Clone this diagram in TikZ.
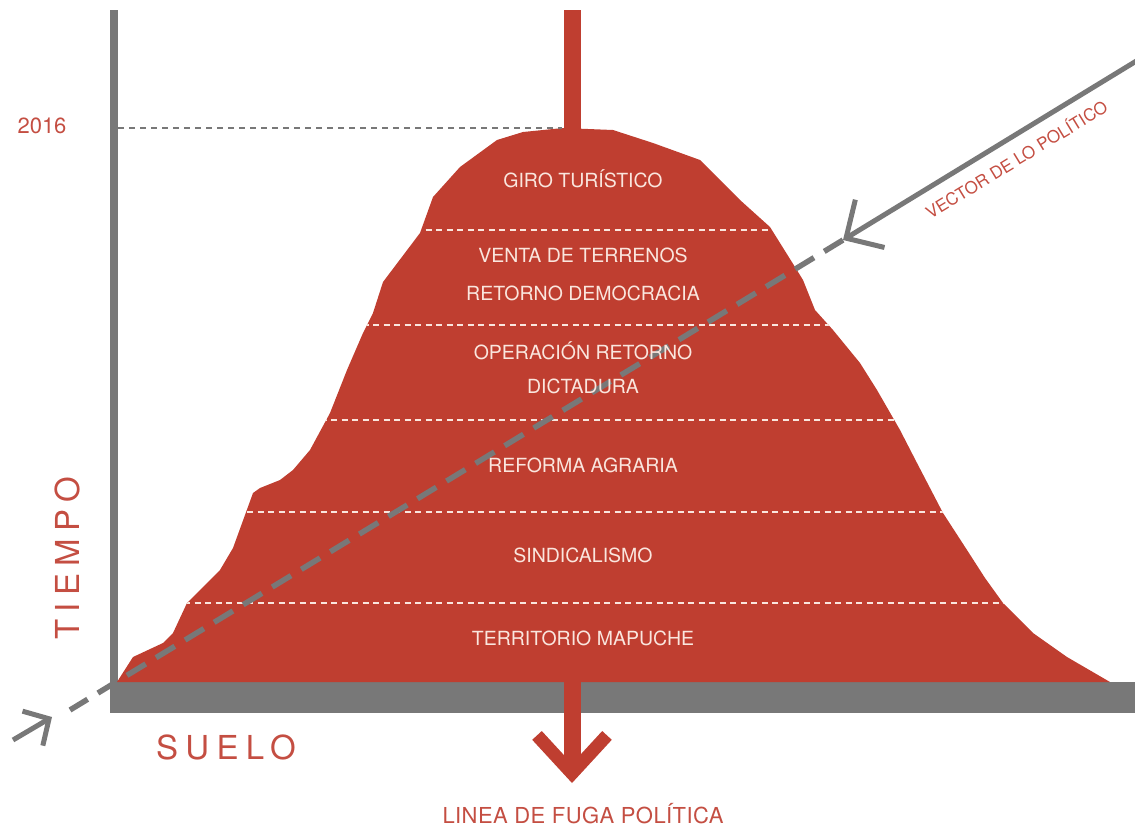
\documentclass[tikz,border=0pt]{standalone}
\usepackage{fontspec}
\setmainfont{TeX Gyre Heros}
\newfontfamily\spacedfont[LetterSpace=22]{TeX Gyre Heros}
\newfontfamily\lightspaced[LetterSpace=2]{TeX Gyre Heros}
\usetikzlibrary{arrows.meta}
\definecolor{mred}{RGB}{191,62,48}
\definecolor{mgray}{RGB}{120,120,120}
\definecolor{ltxt}{RGB}{250,230,222}
\definecolor{rtxt}{RGB}{196,78,66}
\tikzset{
  lbl/.style={font=\fontsize{19.5}{21}\selectfont, text=ltxt, inner sep=0pt, text height=0.72em, text depth=0pt},
  redlbl/.style={text=rtxt, inner sep=0pt, text height=0.72em, text depth=0pt},
  layerline/.style={ltxt, line width=2.6pt, dash pattern=on 6pt off 4.5pt},
  yearline/.style={mgray, line width=2.2pt, dash pattern=on 6pt off 5pt},
  vecsolid/.style={mgray, line width=5pt},
  vecdash/.style={mgray, line width=5.5pt, dash pattern=on 22pt off 12pt},
}
\begin{document}
\begin{tikzpicture}[x=1pt,y=-1pt]
\useasboundingbox (0,0) rectangle (1135,833);

% ground and time axis
\fill[mgray] (109.5,682) rectangle (1135,713);
\draw[mgray, line width=8pt] (113.5,10) -- (113.5,682);

% line of political flight (behind the mountain)
\coordinate (ftop) at (572,10);
\coordinate (ftip) at (572,783);
\draw[mred, line width=17pt, -{Straight Barb[length=38pt, width=70pt, line width=13pt]}] (ftop) -- (ftip);
\node[redlbl, font=\lightspaced\fontsize{22}{24}\selectfont] (fuga) at (583,820) {LINEA DE FUGA POLÍTICA};

% mountain
\path[save path=\mtn] (117,682) -- (133,657) -- (163,643) -- (173,633) -- (187,603) -- (207,583) -- (220,570) -- (233,548) -- (253,493) -- (260,488) -- (280,480) -- (293,470) -- (310,450) -- (330,413) -- (347,370) -- (363,333) -- (373,313) -- (383,282) -- (420,233) -- (433,197) -- (460,167) -- (497,140) -- (523,132) -- (563,128) -- (613,130) -- (653,143) -- (700,160) -- (740,200) -- (770,227) -- (795,267) -- (803,280) -- (815,310) -- (833,330) -- (860,363) -- (877,390) -- (900,430) -- (917,463) -- (943,513) -- (967,550) -- (985,578) -- (1003,603) -- (1033,633) -- (1067,657) -- (1110,682) -- cycle;
\path[use path=\mtn, fill=mred];

% layer separators
\begin{scope}
\path[use path=\mtn, clip];
\draw[layerline] (100,230) -- (1135,230);
\draw[layerline] (100,325) -- (1135,325);
\draw[layerline] (100,420) -- (1135,420);
\draw[layerline] (100,512) -- (1135,512);
\draw[layerline] (100,603) -- (1135,603);
\end{scope}

% year line
\node[redlbl, font=\fontsize{22}{24}\selectfont] (year) at (42,130) {2016};
\coordinate (ystart) at (118,128);
\coordinate (yend) at (562,128);
\draw[yearline] (ystart) -- (yend);

% vector of the political
\coordinate (vin) at (1138,60);
\coordinate (vhead) at (843,240);
\coordinate (vout) at (70,710);
\draw[vecsolid, -{Straight Barb[length=28pt, width=56pt, line width=5pt]}] (vin) -- (vhead);
\draw[vecdash] (vhead) -- (vout);
\coordinate (atail) at (13,740);
\coordinate (ahead) at (52,717);
\draw[vecsolid, -{Straight Barb[length=19pt, width=40pt, line width=5pt]}] (atail) -- (ahead);
\node[redlbl, font=\fontsize{17}{18}\selectfont, rotate=31.4] (vec) at (1018,162) {VECTOR DE LO POLÍTICO};

% layer labels (over the vector)
\node[lbl] (l1) at (583,184) {GIRO TURÍSTICO};
\node[lbl] (l2a) at (583,259) {VENTA DE TERRENOS};
\node[lbl] (l2b) at (583,297) {RETORNO DEMOCRACIA};
\node[lbl] (l3a) at (583,356) {OPERACIÓN RETORNO};
\node[lbl] (l3b) at (583,390) {DICTADURA};
\node[lbl] (l4) at (583,469) {REFORMA AGRARIA};
\node[lbl] (l5) at (583,559) {SINDICALISMO};
\node[lbl] (l6) at (583,642) {TERRITORIO MAPUCHE};

% axis titles
\node[redlbl, font=\spacedfont\fontsize{33}{36}\selectfont, rotate=90] (tiempo) at (76,558) {TIEMPO};
\node[redlbl, font=\spacedfont\fontsize{33}{36}\selectfont] (suelo) at (226,756) {SUELO};
\end{tikzpicture}
\end{document}
